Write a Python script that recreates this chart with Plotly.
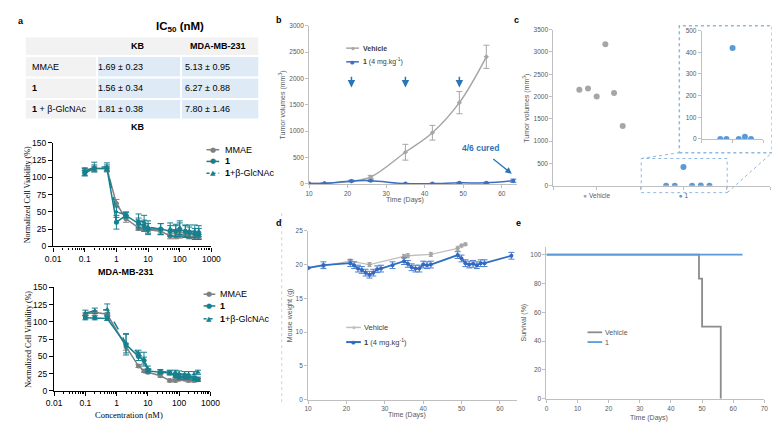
import plotly.graph_objects as go

W, H = 780, 425
def px(x): return x / W
def py(y): return 1 - y / H

# ---------------- DATA ----------------
# Panel a table
ic50_cols = ["KB", "MDA-MB-231"]
ic50_rows = ["MMAE", "<b>1</b>", "<b>1</b> + β-GlcNAc"]
ic50_kb = ["1.69 ± 0.23", "1.56 ± 0.34", "1.81 ± 0.38"]
ic50_mda = ["5.13 ± 0.95", "6.27 ± 0.88", "7.80 ± 1.46"]

# Panel a KB viability
kb_conc = [0.1, 0.2, 0.5, 1, 2, 5, 7.5, 10, 25, 50, 75, 100, 150, 200, 300, 400]
kb_mmae = [111, 113, 113, 62, 40, 27, 25, 24, 22, 15, 15, 16, 16, 14, 14, 14]
kb_mmae_err = [3, 3, 3, 6, 5, 4, 3, 3, 4, 4, 4, 4, 3, 3, 3, 3]
kb_cpd1 = [106, 113, 113, 35, 45, 33, 30, 25, 25, 22, 22, 24, 22, 20, 18, 18]
kb_cpd1_err = [4, 5, 5, 10, 4, 8, 8, 8, 8, 8, 8, 10, 8, 8, 8, 8]
kb_cpd1g = [108, 115, 115, 50, 46, 37, 35, 28, 25, 25, 23, 27, 22, 22, 22, 22]
kb_cpd1g_err = [5, 7, 6, 8, 4, 10, 10, 9, 8, 9, 9, 10, 9, 9, 9, 8]

# Panel a MDA-MB-231 viability
mda_conc = [0.1, 0.2, 0.5, 2, 5, 7.5, 10, 25, 50, 75, 100, 150, 200, 300, 400]
mda_mmae = [111, 114, 111, 64, 36, 29, 27, 22, 15, 15, 17, 17, 15, 15, 16]
mda_mmae_err = [2, 2, 2, 5, 2, 2, 2, 2, 2, 2, 2, 2, 2, 2, 2]
mda_cpd1 = [106, 106, 105, 67, 50, 44, 29, 27, 26, 22, 20, 20, 20, 18, 17]
mda_cpd1_err = [3, 3, 3, 15, 6, 5, 3, 2, 3, 3, 3, 3, 3, 3, 3]
mda_cpd1g = [113, 116, 118, 69, 55, 46, 32, 28, 27, 27, 25, 24, 24, 24, 27]
mda_cpd1g_err = [4, 4, 8, 14, 4, 10, 4, 3, 3, 3, 4, 4, 4, 4, 3]

# Panel b tumor volumes
b_days_veh = [10, 14, 21, 26, 35, 42, 49, 56]
b_veh = [5, 10, 50, 130, 600, 970, 1540, 2410]
b_veh_err = [0, 5, 10, 30, 150, 140, 210, 220]
b_days_trt = [10, 14, 21, 26, 35, 42, 49, 56, 63]
b_trt = [5, 10, 55, 60, 5, 5, 20, 20, 60]
b_trt_err = [0, 5, 15, 15, 5, 5, 10, 10, 30]
b_dose_days = [21, 35, 49]

# Panel c individual tumor volumes
c_pos_veh = [0.6, 0.8, 1.0, 1.2, 1.4, 1.6]
c_veh = [2150, 2180, 2000, 3170, 2080, 1340]
c_pos_trt = [2.6, 2.8, 3.0, 3.2, 3.4, 3.6]
c_trt = [0, 0, 420, 0, 10, 0]

# Panel d mouse weight
d_days_veh = [10, 14, 21, 26, 35, 36, 42, 49, 50, 51]
d_veh = [19.5, 19.8, 20.5, 20.0, 21.2, 21.3, 21.5, 22.4, 22.8, 23.0]
d_veh_err = [0, 0.3, 0.3, 0.3, 0.3, 0.3, 0.3, 0.3, 0.2, 0.2]
d_days_trt = [10, 14, 21, 22, 23, 24, 25, 26, 27, 28, 29, 32, 35, 36, 37, 38, 39,
              40, 41, 42, 49, 50, 51, 52, 53, 54, 55, 56, 63]
d_trt = [19.5, 19.9, 20.2, 19.9, 19.4, 19.2, 18.8, 18.5, 18.8, 19.3, 19.4, 19.9,
         20.5, 20.1, 19.6, 19.4, 19.4, 20.0, 19.9, 20.0, 21.4, 20.9, 20.2, 20.0,
         20.1, 19.9, 20.2, 20.2, 21.3]
d_trt_err = [0] + [0.5] * 28

# Panel e survival
e_days_veh = [0, 49, 49, 50, 50, 56, 56]
e_veh = [100, 100, 83.3, 83.3, 50, 50, 0]
e_days_trt = [0, 63]
e_trt = [100, 100]

# ---------------- STYLE ----------------
TEAL = "#16808f"
GRAYA = "#808080"
BLUE = "#3b6fc4"
LBLUE = "#5b9bd5"
GRAY = "#a6a6a6"
TXT = "#595959"
SANS = "Liberation Sans, Arial, sans-serif"
SERIF = "Liberation Serif, Times New Roman, serif"

fig = go.Figure()

def eb(arr, color, w=3, t=1):
    return dict(type="data", array=arr, visible=True, color=color, width=w, thickness=t)

# ---- panel a traces
def a_traces(xa, ya, conc, mm, mme, c1, c1e, cg, cge):
    fig.add_trace(go.Scatter(x=conc, y=mm, error_y=eb(mme, GRAYA), xaxis=xa, yaxis=ya,
                             mode="lines+markers", line=dict(color=GRAYA, width=1.5),
                             marker=dict(symbol="circle", size=5, color=GRAYA), showlegend=False))
    fig.add_trace(go.Scatter(x=conc, y=cg, error_y=eb(cge, TEAL), xaxis=xa, yaxis=ya,
                             mode="lines+markers", line=dict(color=TEAL, width=1.5, dash="dash"),
                             marker=dict(symbol="triangle-up", size=5, color=TEAL), showlegend=False))
    fig.add_trace(go.Scatter(x=conc, y=c1, error_y=eb(c1e, TEAL), xaxis=xa, yaxis=ya,
                             mode="lines+markers", line=dict(color=TEAL, width=1.5),
                             marker=dict(symbol="circle", size=5, color=TEAL), showlegend=False))

a_traces("x", "y", kb_conc, kb_mmae, kb_mmae_err, kb_cpd1, kb_cpd1_err, kb_cpd1g, kb_cpd1g_err)
a_traces("x2", "y2", mda_conc, mda_mmae, mda_mmae_err, mda_cpd1, mda_cpd1_err, mda_cpd1g, mda_cpd1g_err)

# ---- panel b
fig.add_trace(go.Scatter(x=b_days_veh, y=b_veh, error_y=eb(b_veh_err, GRAY, 3, 1), xaxis="x3", yaxis="y3",
                         mode="lines+markers", line=dict(color=GRAY, width=1.5, shape="spline"),
                         marker=dict(symbol="diamond", size=4, color=GRAY), showlegend=False))
fig.add_trace(go.Scatter(x=b_days_trt, y=b_trt, error_y=eb(b_trt_err, BLUE, 3, 1), xaxis="x3", yaxis="y3",
                         mode="lines+markers", line=dict(color=BLUE, width=1.5, shape="spline"),
                         marker=dict(symbol="circle", size=4, color=BLUE), showlegend=False))

# ---- panel c
fig.add_trace(go.Scatter(x=c_pos_veh, y=c_veh, xaxis="x4", yaxis="y4", mode="markers",
                         marker=dict(size=6, color=GRAY), showlegend=False))
fig.add_trace(go.Scatter(x=c_pos_trt, y=c_trt, xaxis="x4", yaxis="y4", mode="markers",
                         marker=dict(size=6, color=LBLUE), showlegend=False))
fig.add_trace(go.Scatter(x=c_pos_trt, y=c_trt, xaxis="x5", yaxis="y5", mode="markers",
                         marker=dict(size=6, color=LBLUE), showlegend=False))

# ---- panel d
fig.add_trace(go.Scatter(x=d_days_veh, y=d_veh, error_y=eb(d_veh_err, GRAY, 2, 1), xaxis="x6", yaxis="y6",
                         mode="lines+markers", line=dict(color="#c0c0c0", width=1.3),
                         marker=dict(symbol="diamond", size=4, color=GRAY), showlegend=False))
fig.add_trace(go.Scatter(x=d_days_trt, y=d_trt, error_y=eb(d_trt_err, "#4a7fd0", 3, 1), xaxis="x6", yaxis="y6",
                         mode="lines+markers", line=dict(color="#2f6fbf", width=1.8),
                         marker=dict(symbol="circle", size=4, color="#3568c0"), showlegend=False))

# ---- panel e
fig.add_trace(go.Scatter(x=e_days_veh, y=e_veh, xaxis="x7", yaxis="y7", mode="lines",
                         line=dict(color="#8c8c8c", width=1.8), showlegend=False))
fig.add_trace(go.Scatter(x=e_days_trt, y=e_trt, xaxis="x7", yaxis="y7", mode="lines",
                         line=dict(color=LBLUE, width=1.8), showlegend=False))

# ---------------- AXES ----------------
def a_axes(n, x0, x1, ytop, ybot):
    sfx = "" if n == 1 else str(n)
    common = dict(showline=True, linecolor="black", linewidth=1.3, ticks="outside",
                  tickcolor="black", ticklen=4, tickwidth=1.2, showgrid=False, zeroline=False,
                  tickfont=dict(family=SANS, size=8.5, color="black"))
    fig.update_layout(**{
        "xaxis" + sfx: dict(domain=[px(x0), px(x1)], anchor="y" + sfx, type="log", range=[-2, 3],
                           tickvals=[0.01, 0.1, 1, 10, 100, 1000],
                           ticktext=["0.01", "0.1", "1", "10", "100", "1000"],
                           minor=dict(ticks="outside", ticklen=2, tickcolor="black",
                                      tickvals=[m * 10 ** e for e in range(-2, 3) for m in range(2, 10)]),
                           **common),
        "yaxis" + sfx: dict(domain=[py(ybot), py(ytop)], anchor="x" + sfx, range=[0, 150],
                           tickvals=[0, 25, 50, 75, 100, 125, 150], **common),
    })

a_axes(1, 38, 200, 133, 239)
a_axes(2, 39, 199, 281, 387)

def xl_axis(domain, anchor, rng, dtick, tick0=0, **kw):
    d = dict(domain=domain, anchor=anchor, range=rng, dtick=dtick, tick0=tick0,
             showline=True, linecolor="#bfbfbf", linewidth=1, ticks="outside", ticklen=3,
             tickcolor="#bfbfbf", showgrid=False, zeroline=False,
             tickfont=dict(family=SANS, size=6.5, color=TXT))
    d.update(kw)
    return d

fig.update_layout(
    xaxis3=xl_axis([px(300), px(513)], "y3", [10, 64], 10, 10),
    yaxis3=xl_axis([py(175), py(13)], "x3", [0, 3000], 500),
    xaxis4=xl_axis([px(550), px(772)], "y4", [0, 5], None, tickvals=[1, 3],
                   ticktext=['<span style="color:#a6a6a6">●</span> Vehicle',
                             '<span style="color:#5b9bd5">●</span> 1'],
                   minor=dict(ticks="outside", ticklen=3, tickcolor="#bfbfbf", dtick=1, tick0=0)),
    yaxis4=xl_axis([py(177), py(17)], "x4", [0, 3500], 500),
    xaxis5=xl_axis([px(702), px(765)], "y5", [2, 4], 1, 2, showticklabels=False),
    yaxis5=xl_axis([py(129), py(18)], "x5", [0, 500], 100),
    xaxis6=xl_axis([px(299), px(513)], "y6", [10, 64.5], 10, 10),
    yaxis6=xl_axis([py(396), py(223)], "x6", [0, 25], 5),
    xaxis7=xl_axis([px(543), px(766)], "y7", [0, 70], 10),
    yaxis7=xl_axis([py(395), py(240)], "x7", [0, 105], 20, tickvals=[0, 20, 40, 60, 80, 100]),
)

# ---------------- TABLE, LABELS, LEGENDS ----------------
shapes = []
ann = []

def rect(x0, y0, x1, y1, color):
    shapes.append(dict(type="rect", xref="paper", yref="paper", x0=px(x0), x1=px(x1),
                       y0=py(y1), y1=py(y0), fillcolor=color, line=dict(width=0), layer="below"))

def text(x, y, s, size=8, color="black", family=SANS, xanchor="center", angle=0, yanchor="middle"):
    ann.append(dict(x=px(x), y=py(y), xref="paper", yref="paper", text=s, showarrow=False,
                    font=dict(size=size, color=color, family=family), xanchor=xanchor,
                    yanchor=yanchor, textangle=angle))

# table
LG, LB = "#f2f2f2", "#deebf7"
rect(10, 25, 248, 43, LG)
row_y = [(45, 65), (67, 87), (89, 108)]
for i, (y0, y1) in enumerate(row_y):
    rect(10, y0, 82, y1, LG)
    rect(84, y0, 168, y1, LB)
    rect(170, y0, 248, y1, LB)
    text(14, (y0 + y1) / 2, ic50_rows[i], 9, xanchor="left")
    text(107, (y0 + y1) / 2, ic50_kb[i], 9)
    text(196, (y0 + y1) / 2, ic50_mda[i], 9)
text(125, 34, "<b>" + ic50_cols[0] + "</b>", 9)
text(207, 34, "<b>" + ic50_cols[1] + "</b>", 9)
text(168, 14, "<b>IC<sub>50</sub> (nM)</b>", 11.5)

# panel labels
for lab, x, y in [("a", 5, 8), ("b", 269, 7), ("c", 512, 7), ("d", 269, 215), ("e", 514, 215)]:
    text(x, y, "<b>" + lab + "</b>", 9, xanchor="center")

# panel a titles
text(125, 117, "<b>KB</b>", 9)
text(113, 265, "<b>MDA-MB-231</b>", 9)
text(12, 186, "Normalized Cell Viability (%)", 8, family=SERIF, angle=-90)
text(12, 334, "Normalized Cell Viability (%)", 8, family=SERIF, angle=-90)
text(116, 412, "Concentration (nM)", 8.5, family=SERIF)

# axis titles b-e
text(273, 94, "Tumor volumes (mm<sup>3</sup>)", 7, TXT, angle=-90)
text(398, 192, "Time (Days)", 7, TXT)
text(523, 97, "Tumor volumes (mm<sup>3</sup>)", 7, TXT, angle=-90)
text(280, 310, "Mouse weight (g)", 7, TXT, angle=-90)
text(400, 412, "Time (Days)", 7, TXT)
text(520, 317, "Survival (%)", 7, TXT, angle=-90)
text(648, 415, "Time (Days)", 7, TXT)

def line(x0, y0, x1, y1, color, width=1.5, dash="solid"):
    shapes.append(dict(type="line", xref="paper", yref="paper", x0=px(x0), x1=px(x1),
                       y0=py(y0), y1=py(y1), line=dict(color=color, width=width, dash=dash)))

def leg(x0, x1, y, color, glyph, label, tx, size=9, gsize=7, dash="solid", width=1.5,
        tcolor="black", family=SANS):
    line(x0, y, x1, y, color, width, dash)
    if glyph:
        text((x0 + x1) / 2, y, glyph, gsize, color, "DejaVu Sans")
    text(tx, y, label, size, tcolor, family, xanchor="left")

# panel a legends
leg(195, 208, 140, GRAYA, "●", "MMAE", 212)
leg(195, 208, 152, TEAL, "●", "<b>1</b>", 212)
leg(195, 208, 164, TEAL, "▲", "<b>1</b>+β-GlcNAc", 212, dash="dot")
leg(192, 204, 288, GRAYA, "●", "MMAE", 207)
leg(192, 204, 300, TEAL, "●", "<b>1</b>", 207)
leg(192, 204, 313, TEAL, "▲", "<b>1</b>+β-GlcNAc", 207, dash="dot")

# panel b legend
leg(338, 351, 36, GRAY, "◆", "<b>Vehicle</b>", 353, 7, 5, tcolor="#404040")
leg(338, 351, 50, BLUE, "●", "<b>1</b> (4 mg.kg<sup>-1</sup>)", 353, 7, 5, tcolor="#404040")
# panel d legend
leg(338, 353, 322, "#c0c0c0", "◆", "Vehicle", 354, 7.5, 5, tcolor="#404040")
leg(338, 353, 337, "#2f6fbf", "●", "<b>1</b> (4 mg.kg<sup>-1</sup>)", 354, 7.5, 5, width=2,
    tcolor="#404040")
# panel e legend
leg(585, 600, 327, "#8c8c8c", None, "Vehicle", 601, 7, width=1.8, tcolor=TXT)
leg(585, 600, 337, LBLUE, None, "1", 601, 7, width=1.8, tcolor=TXT)

# panel b dose arrows
for d in b_dose_days:
    ann.append(dict(x=d, y=1830, xref="x3", yref="y3", ax=d, ay=2060, axref="x3", ayref="y3",
                    showarrow=True, arrowhead=2, arrowsize=1, arrowwidth=1.5, arrowcolor="#2e75b6",
                    text=""))
# 4/6 cured
text(475, 138, "<b>4/6 cured</b>", 8.5, "#2e75b6")
ann.append(dict(x=62.6, y=190, xref="x3", yref="y3", ax=-20, ay=-16, showarrow=True,
                arrowhead=2, arrowsize=1, arrowwidth=1.3, arrowcolor="#2e75b6", text=""))

# panel c zoom box and connectors
DASH = "#8fb8e0"
shapes.append(dict(type="rect", xref="paper", yref="paper", x0=px(640), x1=px(728), y0=py(184),
                   y1=py(149), line=dict(color=DASH, width=1, dash="dot")))
shapes.append(dict(type="rect", xref="paper", yref="paper", x0=px(679), x1=px(774), y0=py(143),
                   y1=py(13), line=dict(color=DASH, width=1.5, dash="dot")))
line(640, 149, 679, 143, DASH, 1, "dot")
line(728, 184, 774, 143, DASH, 1, "dot")

# faint chart borders
line(272, 205, 272, 400, "#d0d0d0", 1, "dot")

fig.update_layout(
    width=W, height=H, margin=dict(l=0, r=0, t=0, b=0),
    paper_bgcolor="white", plot_bgcolor="rgba(0,0,0,0)",
    shapes=shapes, annotations=ann, showlegend=False,
    font=dict(family=SANS),
)
fig.write_html("out.html")
